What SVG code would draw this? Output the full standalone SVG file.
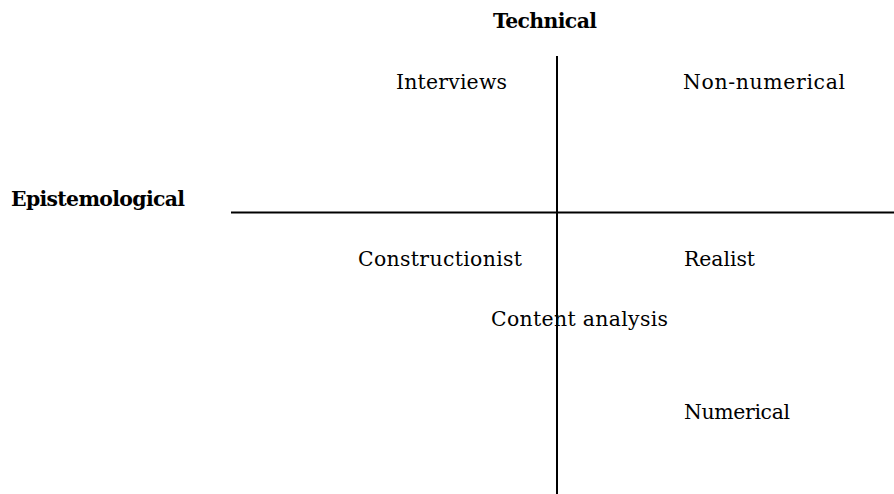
<svg xmlns="http://www.w3.org/2000/svg" width="894" height="494" viewBox="0 0 894 494">
<style>
text{font-family:"DejaVu Serif","Liberation Serif",serif;font-size:20.4px;fill:#000}
.b{font-weight:bold}
.ax{stroke:#000;stroke-width:2;fill:none}
</style>
<rect width="894" height="494" fill="#fff"/>
<g id="connectors">
<line class="ax" x1="557" y1="56" x2="557" y2="494"/>
<line class="ax" x1="231" y1="212.5" x2="894" y2="212.5"/>
</g>
<g id="technical"><text class="b" x="493" y="28" textLength="104">Technical</text></g>
<g id="epistemological"><text class="b" x="11" y="206" textLength="174">Epistemological</text></g>
<g id="interviews"><text x="396" y="89" textLength="111">Interviews</text></g>
<g id="non-numerical"><text x="683" y="89" textLength="162">Non-numerical</text></g>
<g id="constructionist"><text x="358" y="266" textLength="164">Constructionist</text></g>
<g id="realist"><text x="684" y="266" textLength="71">Realist</text></g>
<g id="content-analysis"><text x="491" y="326" textLength="177">Content analysis</text></g>
<g id="numerical"><text x="684" y="419" textLength="106">Numerical</text></g>
</svg>
